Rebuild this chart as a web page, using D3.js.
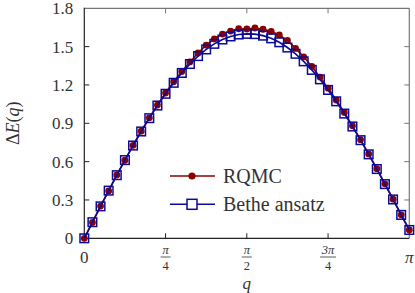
<!DOCTYPE html>
<html><head><meta charset="utf-8">
<script src="https://cdn.jsdelivr.net/npm/d3@7"></script>
<style>body{margin:0;background:#fff}svg{display:block}text{font-family:"Liberation Serif","DejaVu Serif",serif;fill:#333}</style>
</head><body><svg id="c" width="415" height="293"></svg>
<script>
const qIndex = d3.range(0, 41); // q = k*pi/40
const rqmc = [0,0.124,0.252,0.371,0.496,0.611,0.728,0.838,0.943,1.043,1.137,1.225,1.305,1.380,1.450,1.512,1.560,1.598,1.622,1.640,1.638,1.646,1.636,1.620,1.592,1.548,1.486,1.420,1.345,1.262,1.175,1.082,0.985,0.880,0.772,0.660,0.545,0.426,0.306,0.184,0.065];
const bethe = [0,0.126,0.250,0.373,0.494,0.612,0.726,0.836,0.940,1.039,1.131,1.217,1.294,1.364,1.426,1.478,1.522,1.556,1.580,1.595,1.600,1.598,1.586,1.565,1.534,1.493,1.444,1.385,1.318,1.244,1.161,1.072,0.976,0.875,0.768,0.657,0.542,0.424,0.304,0.183,0.065];
const yTicks = [0,0.3,0.6,0.9,1.2,1.5,1.8];
const yTickLabels = ["0","0.3","0.6","0.9","1.2","1.5","1.8"];
const xTicks = [0,Math.PI/4,Math.PI/2,3*Math.PI/4,Math.PI];
const xTickLabels = [["0"],["π","4"],["π","2"],["3π","4"],["π"]];
const seriesNames = ["RQMC","Bethe ansatz"];

const svg = d3.select("#c");
const L=84.3,R=409.3,T=8.3,B=238.3;
const x = d3.scaleLinear().domain([0,Math.PI]).range([L,R]);
const y = d3.scaleLinear().domain([0,1.8]).range([B,T]);
const red="#8b0000", blue="#0a0a96";

// frame
svg.append("line").attr("x1",L).attr("x2",R).attr("y1",T).attr("y2",T).attr("stroke","#777").attr("stroke-width",1.2);
svg.append("line").attr("x1",R).attr("x2",R).attr("y1",T).attr("y2",B).attr("stroke","#777").attr("stroke-width",1.2);
svg.append("line").attr("x1",L).attr("x2",L).attr("y1",T-0.6).attr("y2",B+0.6).attr("stroke","#222").attr("stroke-width",1.2);
svg.append("line").attr("x1",L).attr("x2",R).attr("y1",B).attr("y2",B).attr("stroke","#222").attr("stroke-width",1.2);

// ticks
const tl=5;
yTicks.forEach((v,i)=>{
  if(i>0&&i<yTicks.length-1){
    svg.append("line").attr("x1",L).attr("x2",L+tl).attr("y1",y(v)).attr("y2",y(v)).attr("stroke","#222");
    svg.append("line").attr("x1",R).attr("x2",R-tl).attr("y1",y(v)).attr("y2",y(v)).attr("stroke","#777");
  }
  svg.append("text").attr("x",L-11).attr("y",y(v)).attr("dy","0.35em").attr("text-anchor","end").style("font-size","17px").text(yTickLabels[i]);
});
xTicks.forEach((v,i)=>{
  if(i>0&&i<xTicks.length-1){
    svg.append("line").attr("x1",x(v)).attr("x2",x(v)).attr("y1",B).attr("y2",B-tl).attr("stroke","#222");
    svg.append("line").attr("x1",x(v)).attr("x2",x(v)).attr("y1",T).attr("y2",T+tl).attr("stroke","#777");
  }
  const lab=xTickLabels[i];
  if(lab.length===1){
    svg.append("text").attr("x",x(v)).attr("y",257).attr("dy","0.35em").attr("text-anchor","middle")
      .style("font-size","17px").style("font-style",lab[0]==="π"?"italic":"normal").text(lab[0]);
  } else {
    svg.append("text").attr("x",x(v)).attr("y",254).attr("text-anchor","middle").style("font-size","12.5px").style("font-style","italic").text(lab[0]);
    svg.append("line").attr("x1",x(v)-(lab[0].length>1?8:5)).attr("x2",x(v)+(lab[0].length>1?8:5)).attr("y1",257).attr("y2",257).attr("stroke","#333").attr("stroke-width",0.8);
    svg.append("text").attr("x",x(v)).attr("y",269.5).attr("text-anchor","middle").style("font-size","12.5px").text(lab[1]);
  }
});
// axis labels
svg.append("text").attr("x",x(Math.PI/2)).attr("y",283).attr("dy","0.35em").attr("text-anchor","middle").style("font-size","17px").style("font-style","italic").text("q");
const yl = svg.append("text").attr("transform",`translate(13,${(T+B)/2}) rotate(-90)`).attr("text-anchor","middle").attr("dy","0.35em").style("font-size","18px");
yl.append("tspan").text("Δ");
yl.append("tspan").style("font-style","italic").text("E");
yl.append("tspan").text("(");
yl.append("tspan").style("font-style","italic").text("q");
yl.append("tspan").text(")");

const line = d3.line().x((d,i)=>x(qIndex[i]*Math.PI/40)).y(d=>y(d));
// RQMC
svg.append("path").datum(rqmc).attr("d",line).attr("fill","none").attr("stroke",red).attr("stroke-width",1.6);
svg.selectAll("circle.r").data(rqmc).enter().append("circle").attr("class","r")
  .attr("cx",(d,i)=>x(qIndex[i]*Math.PI/40)).attr("cy",d=>y(d)).attr("r",3.4).attr("fill",red);
// Bethe
svg.append("path").datum(bethe).attr("d",line).attr("fill","none").attr("stroke",blue).attr("stroke-width",1.6);
const s=8.6;
svg.selectAll("rect.b").data(bethe).enter().append("rect").attr("class","b")
  .attr("x",(d,i)=>x(qIndex[i]*Math.PI/40)-s/2).attr("y",d=>y(d)-s/2).attr("width",s).attr("height",s)
  .attr("fill","none").attr("stroke",blue).attr("stroke-width",1.5);

// legend
const lg=[{y:176,c:red,n:seriesNames[0]},{y:204.3,c:blue,n:seriesNames[1]}];
lg.forEach((e,i)=>{
  svg.append("line").attr("x1",170).attr("x2",215).attr("y1",e.y).attr("y2",e.y).attr("stroke",e.c).attr("stroke-width",1.6);
  if(i===0) svg.append("circle").attr("cx",192).attr("cy",e.y).attr("r",3.6).attr("fill",e.c);
  else svg.append("rect").attr("x",192-5).attr("y",e.y-5).attr("width",10).attr("height",10).attr("fill","#fff").attr("stroke",e.c).attr("stroke-width",1.5);
  svg.append("text").attr("x",223).attr("y",e.y).attr("dy","0.35em").style("font-size","20px").text(e.n);
});
</script></body></html>
